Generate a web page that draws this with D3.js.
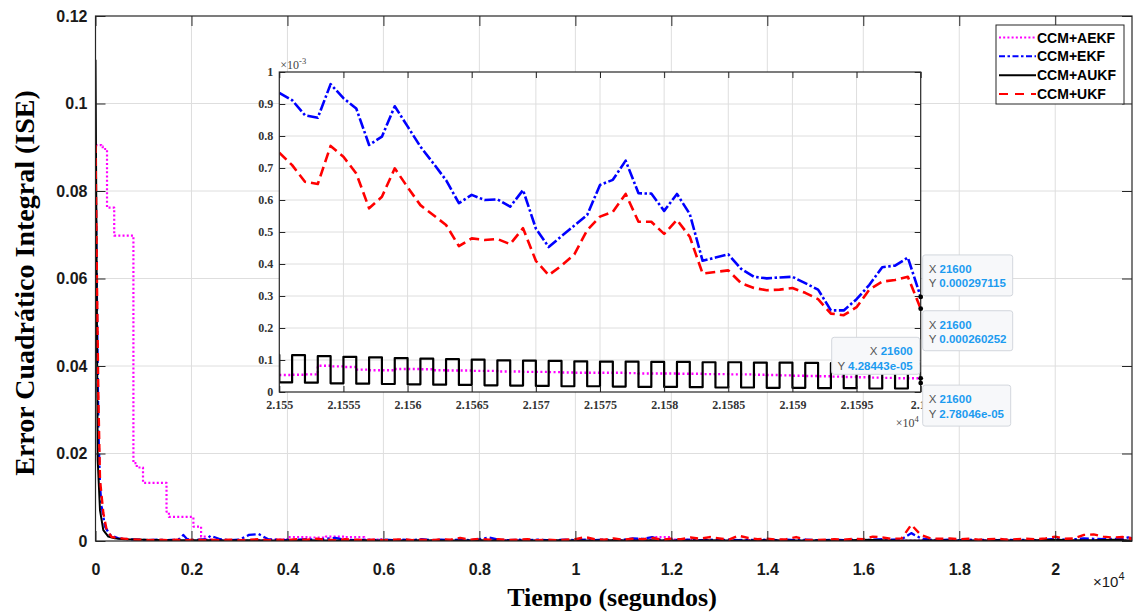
<!DOCTYPE html>
<html>
<head>
<meta charset="utf-8">
<script src="https://cdn.jsdelivr.net/npm/d3@7"></script>
<style>
  html, body { margin: 0; padding: 0; background: #ffffff; }
  svg { display: block; }
</style>
</head>
<body>
<svg id="chart" width="1135" height="613"></svg>
<script>
// ---------------- data ----------------
const seriesNames = ["CCM+AEKF", "CCM+EKF", "CCM+AUKF", "CCM+UKF"];

// main axis ticks
const xTickValues = [0, 2000, 4000, 6000, 8000, 10000, 12000, 14000, 16000, 18000, 20000];
const xTickLabels = ["0", "0.2", "0.4", "0.6", "0.8", "1", "1.2", "1.4", "1.6", "1.8", "2"];
const yTickValues = [0, 0.02, 0.04, 0.06, 0.08, 0.1, 0.12];
const yTickLabels = ["0", "0.02", "0.04", "0.06", "0.08", "0.1", "0.12"];

// zoomed window ticks
const xiTickValues = [21550, 21555, 21560, 21565, 21570, 21575, 21580, 21585, 21590, 21595, 21600];
const xiTickLabels = ["2.155", "2.1555", "2.156", "2.1565", "2.157", "2.1575", "2.158", "2.1585", "2.159", "2.1595", "2.16"];
const yiTickValues = [0, 1e-4, 2e-4, 3e-4, 4e-4, 5e-4, 6e-4, 7e-4, 8e-4, 9e-4, 1e-3];
const yiTickLabels = ["0", "0.1", "0.2", "0.3", "0.4", "0.5", "0.6", "0.7", "0.8", "0.9", "1"];

// start-up transient: [time (s), ISE]
const aekfStart = [[0, 0.0905], [120, 0.0902], [150, 0.0896], [240, 0.0762], [390, 0.0698],
  [790, 0.0178], [860, 0.0168], [990, 0.0133], [1480, 0.0067], [1530, 0.0055],
  [2040, 0.0033], [2200, 0.0010], [2300, 0.0004]];
const ekfStart = [[0, 0.0880], [25, 0.0600], [60, 0.0260], [94, 0.0125], [129, 0.0078],
  [198, 0.0033], [302, 0.0014], [475, 0.0006], [700, 0.0004], [900, 0.0003], [1100, 0.0002],
  [1300, 0.0003], [1500, 0.0002], [1650, 0.0003], [1760, 0.0005], [1830, 0.0014],
  [1900, 0.0005], [2000, 0.0002], [2150, 0.0003], [2300, 0.0004]];
const aukfStart = [[0, 0.1100], [20, 0.0700], [46, 0.0185], [94, 0.0070], [163, 0.0025],
  [267, 0.0010], [400, 0.0006], [600, 0.0004], [1000, 0.0003], [1500, 0.0002], [2000, 0.0002]];
const ukfStart = [[0, 0.0905], [30, 0.0600], [60, 0.0330], [94, 0.0140], [163, 0.0064],
  [233, 0.0025], [337, 0.0009], [540, 0.0006], [700, 0.0004], [900, 0.0003], [1100, 0.0002],
  [1300, 0.0003], [1500, 0.0002], [1700, 0.0003], [1900, 0.0002], [2100, 0.0003], [2300, 0.0002]];

// steady-state tail from t = 2400 s, values in units of 1e-4
const tailStartTime = 2400;
const ekfTailStep = 200;
const ekfTail = [12, 4, 2, 3, 14, 16, 4, 3, 2, 3, 4, 3, 5, 7, 3, 2, 3, 2, 3, 2,
  3, 2, 4, 2, 3, 2, 3, 2, 4, 8, 3, 2, 3, 2, 3, 2, 2, 3, 2, 3,
  2, 3, 2, 3, 6, 5, 9, 2, 3, 2, 3, 2, 3, 2, 3, 2, 3, 2, 3, 2,
  3, 2, 3, 2, 2, 3, 2, 3, 2, 3, 4, 3, 4, 18, 6, 3, 2, 3, 2, 3,
  2, 3, 2, 3, 2, 3, 2, 3, 5, 3, 4, 6, 5, 4, 5, 4];
const ukfTailStep = 200;
const ukfTail = [3, 2, 3, 2, 3, 4, 2, 3, 2, 4, 3, 5, 3, 2, 4, 3, 2, 3, 2, 3,
  4, 2, 3, 2, 4, 3, 7, 3, 5, 3, 4, 2, 3, 4, 2, 3, 2, 3, 4, 9,
  4, 3, 6, 3, 5, 4, 7, 3, 5, 4, 8, 5, 9, 6, 3, 12, 7, 4, 5, 3,
  4, 9, 3, 2, 3, 4, 3, 5, 4, 10, 8, 5, 6, 37, 14, 6, 5, 6, 4, 5,
  3, 4, 5, 3, 4, 5, 4, 6, 10, 5, 6, 14, 15, 10, 8, 9];
const aukfTailStep = 400;
const aukfTail = [2, 1, 2, 1, 1, 2, 1, 1, 2, 1, 1, 2, 1, 1, 2, 1, 1, 1, 2, 1,
  1, 2, 1, 2, 1, 1, 2, 1, 1, 2, 1, 1, 2, 1, 3, 2, 1, 1, 2, 1,
  1, 2, 1, 2, 3, 2, 2, 3];
const aekfTailStep = 400;
const aekfTail = [2, 1, 2, 3, 9, 8, 10, 9, 3, 2, 1, 1, 2, 1, 1, 2, 1, 1, 2, 1,
  1, 2, 3, 9, 3, 2, 1, 1, 2, 1, 1, 1, 2, 1, 1, 2, 1, 2, 1, 1,
  2, 1, 1, 2, 1, 1, 2, 1];

// last 50 s at 1 s resolution, values in units of 1e-3
const windowStartTime = 21550;
const aekfWindow = [0.053, 0.054, 0.055, 0.082, 0.080, 0.078, 0.070, 0.068, 0.068, 0.072,
  0.072, 0.071, 0.068, 0.067, 0.067, 0.066, 0.066, 0.064, 0.064, 0.063,
  0.063, 0.062, 0.061, 0.060, 0.060, 0.060, 0.060, 0.059, 0.058, 0.058,
  0.058, 0.057, 0.057, 0.056, 0.056, 0.055, 0.055, 0.054, 0.053, 0.052,
  0.051, 0.050, 0.049, 0.048, 0.047, 0.046, 0.045, 0.044, 0.043, 0.043,
  0.0428443];
const ekfWindow = [0.935, 0.912, 0.865, 0.857, 0.962, 0.918, 0.886, 0.772, 0.798, 0.893,
  0.830, 0.767, 0.715, 0.662, 0.590, 0.616, 0.600, 0.602, 0.579, 0.631,
  0.511, 0.453, 0.487, 0.520, 0.553, 0.647, 0.663, 0.723, 0.621, 0.620,
  0.566, 0.619, 0.556, 0.410, 0.420, 0.430, 0.385, 0.360, 0.355, 0.358,
  0.360, 0.340, 0.320, 0.255, 0.255, 0.290, 0.335, 0.390, 0.395, 0.420,
  0.297115];
// AUKF window starts one second earlier (t = 21549)
const aukfWindowStartTime = 21549;
const aukfWindow = [0.116, 0.030, 0.115, 0.029, 0.112, 0.027, 0.110, 0.026, 0.108, 0.025,
  0.106, 0.024, 0.104, 0.023, 0.103, 0.022, 0.101, 0.021, 0.099, 0.020,
  0.098, 0.019, 0.097, 0.018, 0.096, 0.018, 0.095, 0.017, 0.095, 0.016,
  0.094, 0.016, 0.094, 0.015, 0.093, 0.014, 0.093, 0.014, 0.092, 0.013,
  0.092, 0.013, 0.091, 0.012, 0.090, 0.012, 0.090, 0.011, 0.089, 0.011,
  0.089, 0.0278046];
const ukfWindow = [0.748, 0.709, 0.657, 0.650, 0.769, 0.735, 0.683, 0.574, 0.610, 0.699,
  0.640, 0.584, 0.553, 0.522, 0.456, 0.480, 0.475, 0.478, 0.462, 0.512,
  0.410, 0.365, 0.395, 0.430, 0.506, 0.548, 0.563, 0.619, 0.532, 0.532,
  0.494, 0.538, 0.485, 0.370, 0.375, 0.380, 0.340, 0.325, 0.318, 0.320,
  0.325, 0.310, 0.290, 0.245, 0.240, 0.265, 0.320, 0.345, 0.350, 0.360,
  0.260252];

// data tips at t = 21600 s
const tipTime = 21600;
const tipSeries = ["CCM+EKF", "CCM+UKF", "CCM+AUKF", "CCM+AEKF"];
const tipValues = [0.000297115, 0.000260252, 2.78046e-05, 4.28443e-05];
const tipTexts = ["0.000297115", "0.000260252", "2.78046e-05", "4.28443e-05"];

// ---------------- assemble series ----------------
function windowPoints(t0, vals) {
  return vals.map((v, i) => [t0 + i, v * 1e-3]);
}
function tailPoints(step, vals) {
  return vals.map((v, i) => [tailStartTime + i * step, v * 1e-4]);
}
const windowData = {
  "CCM+AEKF": windowPoints(windowStartTime, aekfWindow),
  "CCM+EKF": windowPoints(windowStartTime, ekfWindow),
  "CCM+AUKF": windowPoints(aukfWindowStartTime, aukfWindow),
  "CCM+UKF": windowPoints(windowStartTime, ukfWindow)
};
const fullData = {
  "CCM+AEKF": aekfStart.concat(tailPoints(aekfTailStep, aekfTail), windowData["CCM+AEKF"]),
  "CCM+EKF": ekfStart.concat(tailPoints(ekfTailStep, ekfTail), windowData["CCM+EKF"]),
  "CCM+AUKF": aukfStart.concat(tailPoints(aukfTailStep, aukfTail), windowData["CCM+AUKF"]),
  "CCM+UKF": ukfStart.concat(tailPoints(ukfTailStep, ukfTail), windowData["CCM+UKF"])
};

// ---------------- styles ----------------
const lineStyle = {
  "CCM+AEKF": { color: "#ff00ff", dash: "2,2.2", width: 2.2, step: true },
  "CCM+EKF":  { color: "#0000ff", dash: "9,3,2.5,3", width: 2.3, step: false },
  "CCM+AUKF": { color: "#000000", dash: null, width: 2.0, step: false },
  "CCM+UKF":  { color: "#ff0000", dash: "8,5", width: 2.4, step: false }
};
const insetStyle = {
  "CCM+AEKF": { dash: "2,2.5", width: 2.4, step: true },
  "CCM+EKF":  { dash: "11,2.5,2.5,2.5", width: 2.6, step: false },
  "CCM+AUKF": { dash: null, width: 2.2, step: true },
  "CCM+UKF":  { dash: "10,5", width: 2.6, step: false }
};
const axisColor = "#262626";
const gridColor = "#dedede";
const sansFont = "'Liberation Sans', Arial, sans-serif";
const serifFont = "'Liberation Serif', 'Times New Roman', serif";

// ---------------- layout ----------------
const plot = { left: 95.5, right: 1132, top: 16, bottom: 541 };
const inset = { left: 279.3, right: 920.7, top: 72, bottom: 392 };

const svg = d3.select("#chart");
const x = d3.scaleLinear().domain([0, 21600]).range([plot.left, plot.right]);
const y = d3.scaleLinear().domain([0, 0.12]).range([plot.bottom, plot.top]);
const xi = d3.scaleLinear().domain([21550, 21600]).range([inset.left, inset.right]);
const yi = d3.scaleLinear().domain([0, 1e-3]).range([inset.bottom, inset.top]);

const defs = svg.append("defs");
defs.append("clipPath").attr("id", "clip-main").append("rect")
  .attr("x", plot.left).attr("y", plot.top)
  .attr("width", plot.right - plot.left).attr("height", plot.bottom - plot.top);
defs.append("clipPath").attr("id", "clip-inset").append("rect")
  .attr("x", inset.left).attr("y", inset.top)
  .attr("width", inset.right - inset.left).attr("height", inset.bottom - inset.top);

// ---------------- main axes ----------------
const mainG = svg.append("g");
mainG.append("rect")
  .attr("x", plot.left).attr("y", plot.top)
  .attr("width", plot.right - plot.left).attr("height", plot.bottom - plot.top)
  .attr("fill", "#ffffff");

// grid
mainG.append("g").selectAll("line").data(xTickValues.slice(1)).join("line")
  .attr("x1", d => x(d)).attr("x2", d => x(d))
  .attr("y1", plot.top).attr("y2", plot.bottom)
  .attr("stroke", gridColor).attr("stroke-width", 1);
mainG.append("g").selectAll("line").data(yTickValues.slice(1, -1)).join("line")
  .attr("x1", plot.left).attr("x2", plot.right)
  .attr("y1", d => y(d)).attr("y2", d => y(d))
  .attr("stroke", gridColor).attr("stroke-width", 1);

// series
const mainLines = mainG.append("g").attr("clip-path", "url(#clip-main)");
seriesNames.forEach(name => {
  const st = lineStyle[name];
  const gen = d3.line().x(d => x(d[0])).y(d => y(d[1]))
    .curve(st.step ? d3.curveStepAfter : d3.curveLinear);
  mainLines.append("path")
    .datum(fullData[name])
    .attr("d", gen)
    .attr("fill", "none")
    .attr("stroke", st.color)
    .attr("stroke-width", st.width)
    .attr("stroke-dasharray", st.dash)
    .attr("stroke-linejoin", "round");
});

// axes with inward ticks
function styleAxis(g) {
  g.select(".domain").remove();
  g.selectAll(".tick line").attr("stroke", axisColor).attr("stroke-width", 1);
}
const xAxisB = d3.axisBottom(x).tickValues(xTickValues)
  .tickFormat((d, i) => xTickLabels[i]).tickSize(-10).tickPadding(23);
mainG.append("g").attr("transform", `translate(0,${plot.bottom})`).call(xAxisB)
  .call(styleAxis)
  .call(g => g.selectAll("text").attr("font-family", sansFont).attr("font-size", 16)
    .attr("font-weight", "bold").attr("fill", "#1a1a1a"));
mainG.append("g").attr("transform", `translate(0,${plot.top})`)
  .call(d3.axisTop(x).tickValues(xTickValues).tickFormat("").tickSize(-10))
  .call(styleAxis);
const yAxisL = d3.axisLeft(y).tickValues(yTickValues)
  .tickFormat((d, i) => yTickLabels[i]).tickSize(-10).tickPadding(8);
mainG.append("g").attr("transform", `translate(${plot.left},0)`).call(yAxisL)
  .call(styleAxis)
  .call(g => g.selectAll("text").attr("font-family", sansFont).attr("font-size", 16)
    .attr("font-weight", "bold").attr("fill", "#1a1a1a"));
mainG.append("g").attr("transform", `translate(${plot.right},0)`)
  .call(d3.axisRight(y).tickValues(yTickValues).tickFormat("").tickSize(-10))
  .call(styleAxis);
mainG.append("rect")
  .attr("x", plot.left).attr("y", plot.top)
  .attr("width", plot.right - plot.left).attr("height", plot.bottom - plot.top)
  .attr("fill", "none").attr("stroke", axisColor).attr("stroke-width", 1.2);

// exponent label of the time axis
const expMain = mainG.append("text")
  .attr("x", 1093).attr("y", 587)
  .attr("font-family", sansFont).attr("font-size", 15).attr("fill", "#1a1a1a");
expMain.append("tspan").text("\u00d710");
expMain.append("tspan").attr("dy", -7).attr("font-size", 11).text("4");

// axis titles
svg.append("text")
  .attr("transform", "translate(34,283) rotate(-90)")
  .attr("text-anchor", "middle")
  .attr("font-family", serifFont).attr("font-weight", "bold").attr("font-size", 28)
  .attr("fill", "#000").text("Error Cuadrático Integral (ISE)");
svg.append("text")
  .attr("x", 612).attr("y", 606)
  .attr("text-anchor", "middle")
  .attr("font-family", serifFont).attr("font-weight", "bold").attr("font-size", 26)
  .attr("fill", "#000").text("Tiempo (segundos)");

// ---------------- zoomed window ----------------
const insG = svg.append("g");
insG.append("rect")
  .attr("x", inset.left).attr("y", inset.top)
  .attr("width", inset.right - inset.left).attr("height", inset.bottom - inset.top)
  .attr("fill", "#ffffff");
insG.append("g").selectAll("line").data(xiTickValues.slice(1, -1)).join("line")
  .attr("x1", d => xi(d)).attr("x2", d => xi(d))
  .attr("y1", inset.top).attr("y2", inset.bottom)
  .attr("stroke", gridColor).attr("stroke-width", 1);
insG.append("g").selectAll("line").data(yiTickValues.slice(1, -1)).join("line")
  .attr("x1", inset.left).attr("x2", inset.right)
  .attr("y1", d => yi(d)).attr("y2", d => yi(d))
  .attr("stroke", gridColor).attr("stroke-width", 1);

const insLines = insG.append("g").attr("clip-path", "url(#clip-inset)");
seriesNames.forEach(name => {
  const st = insetStyle[name];
  const gen = d3.line().x(d => xi(d[0])).y(d => yi(d[1]))
    .curve(st.step ? d3.curveStepAfter : d3.curveLinear);
  insLines.append("path")
    .datum(windowData[name])
    .attr("d", gen)
    .attr("fill", "none")
    .attr("stroke", lineStyle[name].color)
    .attr("stroke-width", st.width)
    .attr("stroke-dasharray", st.dash)
    .attr("stroke-linejoin", "round");
});

insG.append("g").attr("transform", `translate(0,${inset.bottom})`)
  .call(d3.axisBottom(xi).tickValues(xiTickValues).tickFormat((d, i) => xiTickLabels[i])
    .tickSize(-6).tickPadding(8))
  .call(styleAxis)
  .call(g => g.selectAll("text").attr("font-family", serifFont).attr("font-size", 12)
    .attr("font-weight", "bold").attr("fill", "#333"));
insG.append("g").attr("transform", `translate(0,${inset.top})`)
  .call(d3.axisTop(xi).tickValues(xiTickValues).tickFormat("").tickSize(-6))
  .call(styleAxis);
insG.append("g").attr("transform", `translate(${inset.left},0)`)
  .call(d3.axisLeft(yi).tickValues(yiTickValues).tickFormat((d, i) => yiTickLabels[i])
    .tickSize(-6).tickPadding(6))
  .call(styleAxis)
  .call(g => g.selectAll("text").attr("font-family", serifFont).attr("font-size", 12)
    .attr("font-weight", "bold").attr("fill", "#333"));
insG.append("g").attr("transform", `translate(${inset.right},0)`)
  .call(d3.axisRight(yi).tickValues(yiTickValues).tickFormat("").tickSize(-6))
  .call(styleAxis);
insG.append("rect")
  .attr("x", inset.left).attr("y", inset.top)
  .attr("width", inset.right - inset.left).attr("height", inset.bottom - inset.top)
  .attr("fill", "none").attr("stroke", axisColor).attr("stroke-width", 1.2);

const expY = insG.append("text").attr("x", inset.left + 1).attr("y", inset.top - 3)
  .attr("font-family", serifFont).attr("font-size", 12).attr("fill", "#444");
expY.append("tspan").text("\u00d710");
expY.append("tspan").attr("dy", -5).attr("font-size", 8.5).text("-3");
const expX = insG.append("text").attr("x", inset.right - 25).attr("y", inset.bottom + 35)
  .attr("font-family", serifFont).attr("font-size", 12).attr("fill", "#444");
expX.append("tspan").text("\u00d710");
expX.append("tspan").attr("dy", -5).attr("font-size", 8.5).text("4");

// ---------------- legend ----------------
const legend = svg.append("g");
const legendBox = { x: 996, y: 25, w: 128, h: 79 };
legend.append("rect")
  .attr("x", legendBox.x).attr("y", legendBox.y)
  .attr("width", legendBox.w).attr("height", legendBox.h)
  .attr("fill", "#ffffff").attr("stroke", axisColor).attr("stroke-width", 1);
const legendRowY = d3.scalePoint().domain(seriesNames).range([legendBox.y + 12.5, legendBox.y + 69]);
seriesNames.forEach(name => {
  const st = lineStyle[name];
  const yy = legendRowY(name);
  legend.append("line")
    .attr("x1", legendBox.x + 3).attr("x2", legendBox.x + 40)
    .attr("y1", yy).attr("y2", yy)
    .attr("stroke", st.color).attr("stroke-width", 2)
    .attr("stroke-dasharray", name === "CCM+UKF" ? "9,7" : (name === "CCM+EKF" ? "6,2.5,2.5,2.5" : st.dash));
  legend.append("text")
    .attr("x", legendBox.x + 41).attr("y", yy + 5)
    .attr("font-family", sansFont).attr("font-weight", "bold").attr("font-size", 14)
    .attr("fill", "#000").text(name);
});

// ---------------- data tips ----------------
const tipLayout = {
  "CCM+EKF":  { dx: 2,   dy: -42, w: 90, h: 41, align: "start" },
  "CCM+UKF":  { dx: 2,   dy: 2,   w: 90, h: 40, align: "start" },
  "CCM+AUKF": { dx: 2,   dy: 2,   w: 88, h: 41, align: "start" },
  "CCM+AEKF": { dx: -89, dy: -41, w: 88, h: 37, align: "end" }
};
const tips = svg.append("g");
tipSeries.forEach((name, i) => {
  const px = xi(tipTime), py = yi(tipValues[i]);
  const L = tipLayout[name];
  const bx = px + L.dx, by = py + L.dy;
  tips.append("rect")
    .attr("x", bx).attr("y", by).attr("width", L.w).attr("height", L.h)
    .attr("rx", 2.5).attr("fill", "#f7f8fa")
    .attr("stroke", "#d3d7dd").attr("stroke-width", 1);
  const tx = L.align === "start" ? bx + 6 : bx + L.w - 7;
  const lines = [["X", String(tipTime)], ["Y", tipTexts[i]]];
  lines.forEach((ln, j) => {
    const t = tips.append("text")
      .attr("x", tx).attr("y", by + 18 + j * 14.5)
      .attr("text-anchor", L.align)
      .attr("font-family", sansFont).attr("font-size", 11.5);
    t.append("tspan").attr("fill", "#555").text(ln[0] + " ");
    t.append("tspan").attr("fill", "#1c9bf0").attr("font-weight", "bold").text(ln[1]);
  });
  tips.append("circle").attr("cx", px).attr("cy", py).attr("r", 2.4)
    .attr("fill", "#000");
});
</script>
</body>
</html>
